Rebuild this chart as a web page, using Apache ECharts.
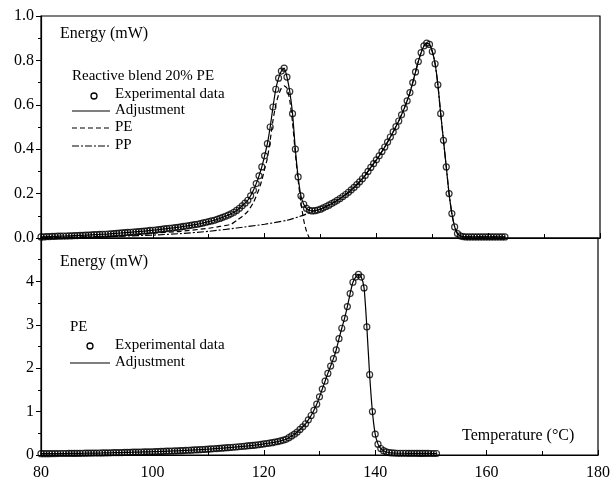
<!DOCTYPE html>
<html>
<head>
<meta charset="utf-8">
<script src="https://cdn.jsdelivr.net/npm/echarts@6/dist/echarts.min.js"></script>
<style>
  html, body { margin: 0; padding: 0; background: #fff; }
  #chart { width: 613px; height: 481px; }
</style>
</head>
<body>
<div id="chart"></div>
<script>
// sample temperatures (°C), 0.5 steps, shared by both panels
const temps = [
  80, 80.5, 81, 81.5, 82, 82.5, 83, 83.5, 84, 84.5,
  85, 85.5, 86, 86.5, 87, 87.5, 88, 88.5, 89, 89.5,
  90, 90.5, 91, 91.5, 92, 92.5, 93, 93.5, 94, 94.5,
  95, 95.5, 96, 96.5, 97, 97.5, 98, 98.5, 99, 99.5,
  100, 100.5, 101, 101.5, 102, 102.5, 103, 103.5, 104, 104.5,
  105, 105.5, 106, 106.5, 107, 107.5, 108, 108.5, 109, 109.5,
  110, 110.5, 111, 111.5, 112, 112.5, 113, 113.5, 114, 114.5,
  115, 115.5, 116, 116.5, 117, 117.5, 118, 118.5, 119, 119.5,
  120, 120.5, 121, 121.5, 122, 122.5, 123, 123.5, 124, 124.5,
  125, 125.5, 126, 126.5, 127, 127.5, 128, 128.5, 129, 129.5,
  130, 130.5, 131, 131.5, 132, 132.5, 133, 133.5, 134, 134.5,
  135, 135.5, 136, 136.5, 137, 137.5, 138, 138.5, 139, 139.5,
  140, 140.5, 141, 141.5, 142, 142.5, 143, 143.5, 144, 144.5,
  145, 145.5, 146, 146.5, 147, 147.5, 148, 148.5, 149, 149.5,
  150, 150.5, 151, 151.5, 152, 152.5, 153, 153.5, 154, 154.5,
  155, 155.5, 156, 156.5, 157, 157.5, 158, 158.5, 159, 159.5,
  160, 160.5, 161, 161.5, 162, 162.5, 163
]

// reactive blend 20% PE, energy (mW)
const blendEnergy = [
  0.005, 0.005, 0.006, 0.006, 0.007, 0.007, 0.008, 0.008, 0.009, 0.009,
  0.010, 0.010, 0.011, 0.011, 0.012, 0.012, 0.013, 0.013, 0.014, 0.015,
  0.015, 0.016, 0.017, 0.017, 0.018, 0.019, 0.020, 0.021, 0.022, 0.023,
  0.024, 0.025, 0.026, 0.027, 0.028, 0.029, 0.030, 0.031, 0.032, 0.034,
  0.035, 0.036, 0.038, 0.039, 0.041, 0.042, 0.044, 0.045, 0.047, 0.048,
  0.050, 0.052, 0.054, 0.056, 0.058, 0.060, 0.062, 0.065, 0.068, 0.071,
  0.074, 0.077, 0.080, 0.084, 0.088, 0.093, 0.098, 0.103, 0.109, 0.116,
  0.124, 0.134, 0.145, 0.157, 0.170, 0.190, 0.215, 0.245, 0.280, 0.320,
  0.370, 0.425, 0.500, 0.590, 0.670, 0.720, 0.752, 0.765, 0.725, 0.660,
  0.560, 0.400, 0.275, 0.190, 0.152, 0.133, 0.125, 0.122, 0.123, 0.126,
  0.130, 0.136, 0.142, 0.148, 0.155, 0.162, 0.170, 0.178, 0.187, 0.196,
  0.206, 0.217, 0.228, 0.240, 0.253, 0.267, 0.282, 0.300, 0.318, 0.335,
  0.352, 0.370, 0.390, 0.410, 0.432, 0.455, 0.478, 0.502, 0.527, 0.555,
  0.585, 0.618, 0.655, 0.700, 0.748, 0.795, 0.835, 0.865, 0.878, 0.872,
  0.840, 0.785, 0.690, 0.560, 0.440, 0.320, 0.200, 0.110, 0.050, 0.020,
  0.010, 0.006, 0.005, 0.005, 0.005, 0.005, 0.005, 0.005, 0.005, 0.005,
  0.005, 0.005, 0.005, 0.005, 0.005, 0.005, 0.005
]

// PE component of the blend fit (dashed)
const peTemps = [90, 95, 100, 105, 110, 112, 114, 115, 116, 117, 118, 119, 119.5, 120, 120.5,
  121, 121.5, 122, 122.5, 123, 123.5, 124, 124.5, 125, 125.5, 126, 126.5, 127, 127.5, 128]
const peFit = [0.004, 0.010, 0.022, 0.030, 0.044, 0.052, 0.062, 0.079, 0.097, 0.120, 0.160, 0.220, 0.260, 0.310, 0.360,
  0.440, 0.530, 0.600, 0.645, 0.675, 0.685, 0.675, 0.620, 0.520, 0.380, 0.260, 0.160, 0.080, 0.030, 0.000]

// PP component of the blend fit (dash-dot), joins the data after 129.5 °C
const ppTemps = [80, 85, 90, 95, 100, 105, 110, 115, 120, 124, 127, 128.5]
const ppFit = [0.002, 0.004, 0.006, 0.009, 0.013, 0.020, 0.030, 0.045, 0.062, 0.080, 0.103, 0.120]

// pure PE, energy (mW), 80..151 °C
const pureEnergy = [
  0.030, 0.030, 0.031, 0.031, 0.032, 0.032, 0.033, 0.034, 0.034, 0.035,
  0.036, 0.036, 0.037, 0.038, 0.039, 0.040, 0.041, 0.042, 0.043, 0.044,
  0.045, 0.046, 0.047, 0.049, 0.050, 0.051, 0.053, 0.054, 0.056, 0.057,
  0.059, 0.060, 0.062, 0.064, 0.065, 0.067, 0.069, 0.071, 0.073, 0.074,
  0.075, 0.077, 0.079, 0.082, 0.084, 0.087, 0.089, 0.092, 0.095, 0.097,
  0.100, 0.103, 0.106, 0.109, 0.112, 0.116, 0.119, 0.123, 0.127, 0.131,
  0.135, 0.139, 0.144, 0.148, 0.153, 0.158, 0.163, 0.168, 0.173, 0.178,
  0.184, 0.190, 0.196, 0.202, 0.208, 0.214, 0.221, 0.228, 0.236, 0.245,
  0.255, 0.265, 0.275, 0.285, 0.297, 0.310, 0.325, 0.342, 0.362, 0.400,
  0.440, 0.480, 0.530, 0.590, 0.650, 0.720, 0.810, 0.910, 1.030, 1.170,
  1.340, 1.520, 1.700, 1.880, 2.050, 2.220, 2.420, 2.680, 2.920, 3.150,
  3.420, 3.720, 3.980, 4.100, 4.160, 4.100, 3.850, 2.950, 1.850, 1.000,
  0.480, 0.250, 0.150, 0.100, 0.070, 0.055, 0.048, 0.044, 0.040, 0.040,
  0.040, 0.040, 0.039, 0.039, 0.038, 0.038, 0.037, 0.037, 0.036, 0.036,
  0.035, 0.035, 0.035
]

const xTicks = { min: 80, max: 180, interval: 20 }
const topTicks = { min: 0, max: 1, interval: 0.2 }
const bottomTicks = { min: 0, max: 5, interval: 1 }

const serif = '"Liberation Serif", "DejaVu Serif", serif'
const black = '#000'

const zip = (xs, ys) => ys.map((y, i) => [xs[i], y])
const blendData = zip(temps, blendEnergy)
const pureData = zip(temps, pureEnergy)
const peData = zip(peTemps, peFit)
const joinAt = temps.indexOf(129.5)
const ppData = zip(ppTemps, ppFit).concat(blendData.slice(joinAt))

function xAxis(gridIndex, showLabels) {
  return {
    gridIndex,
    type: 'value',
    min: xTicks.min,
    max: xTicks.max,
    interval: xTicks.interval,
    axisLine: { show: true, onZero: false, lineStyle: { color: black, width: 1.2 } },
    axisTick: { show: true, inside: true, length: 5, lineStyle: { color: black } },
    minorTick: { show: true, splitNumber: 2, length: 4, lineStyle: { color: black } },
    splitLine: { show: false },
    axisLabel: { show: showLabels, color: black, fontFamily: serif, fontSize: 16, margin: 10 }
  }
}

function yAxis(gridIndex, ticks, formatter) {
  return {
    gridIndex,
    type: 'value',
    min: ticks.min,
    max: ticks.max,
    interval: ticks.interval,
    axisLine: { show: true, onZero: false, lineStyle: { color: black, width: 1.2 } },
    axisTick: { show: true, inside: false, length: 5, lineStyle: { color: black } },
    minorTick: { show: true, splitNumber: 2, length: 3, lineStyle: { color: black } },
    splitLine: { show: false },
    axisLabel: { color: black, fontFamily: serif, fontSize: 16, margin: 7, formatter }
  }
}

const lineBase = {
  type: 'line',
  showSymbol: false,
  symbol: 'none',
  smooth: 0.2,
  silent: true
}

const circles = {
  type: 'scatter',
  symbol: 'circle',
  symbolSize: 6,
  itemStyle: { color: 'transparent', borderColor: black, borderWidth: 1.2 },
  silent: true
}

function label(text, x, y, size) {
  return {
    type: 'text', left: x, top: y - size / 2 - 1,
    style: { text, font: size + 'px ' + serif, fill: black }
  }
}
function keyLine(x1, x2, y, dash) {
  return {
    type: 'line', shape: { x1, y1: y, x2, y2: y },
    style: { stroke: black, lineWidth: 1.2, lineDash: dash }
  }
}
function keyCircle(cx, cy) {
  return { type: 'circle', shape: { cx, cy, r: 3 }, style: { fill: 'none', stroke: black, lineWidth: 1.3 } }
}

const chart = echarts.init(document.getElementById('chart'))
chart.setOption({
  animation: false,
  backgroundColor: '#fff',
  grid: [
    { left: 41, right: 13, top: 16, height: 222, show: true, borderColor: black, borderWidth: 1.2 },
    { left: 41, right: 13, top: 238, height: 224, show: true, borderColor: black, borderWidth: 1.2 }
  ],
  xAxis: [xAxis(0, false), xAxis(1, true)],
  yAxis: [
    yAxis(0, topTicks, v => v.toFixed(1)),
    yAxis(1, bottomTicks, v => (v === bottomTicks.max ? '' : String(v)))
  ],
  series: [
    Object.assign({}, lineBase, { name: 'Adjustment', xAxisIndex: 0, yAxisIndex: 0, data: blendData,
      lineStyle: { color: black, width: 1.2 } }),
    Object.assign({}, lineBase, { name: 'PE', xAxisIndex: 0, yAxisIndex: 0, data: peData,
      lineStyle: { color: black, width: 1.2, type: [5, 3] } }),
    Object.assign({}, lineBase, { name: 'PP', xAxisIndex: 0, yAxisIndex: 0, data: ppData,
      lineStyle: { color: black, width: 1.2, type: [7, 2, 2, 2] } }),
    Object.assign({}, circles, { name: 'Experimental data', xAxisIndex: 0, yAxisIndex: 0, data: blendData }),
    Object.assign({}, lineBase, { name: 'Adjustment PE', xAxisIndex: 1, yAxisIndex: 1, data: pureData,
      lineStyle: { color: black, width: 1.2 } }),
    Object.assign({}, circles, { name: 'Experimental data PE', xAxisIndex: 1, yAxisIndex: 1, data: pureData })
  ],
  graphic: [
    label('Energy (mW)', 60, 35, 16),
    label('Reactive blend 20% PE', 72, 77, 15),
    keyCircle(94, 96),
    label('Experimental data', 115, 95, 15),
    keyLine(72, 110, 111, null),
    label('Adjustment', 115, 111, 15),
    keyLine(72, 110, 128, [5, 3]),
    label('PE', 115, 128, 15),
    keyLine(72, 110, 146, [7, 2, 2, 2]),
    label('PP', 115, 146, 15),

    label('Energy (mW)', 60, 263, 16),
    label('PE', 70, 328, 15),
    keyCircle(90, 346),
    label('Experimental data', 115, 346, 15),
    keyLine(70, 110, 363, null),
    label('Adjustment', 115, 363, 15),
    label('Temperature (°C)', 462, 437, 16)
  ]
})
</script>
</body>
</html>
